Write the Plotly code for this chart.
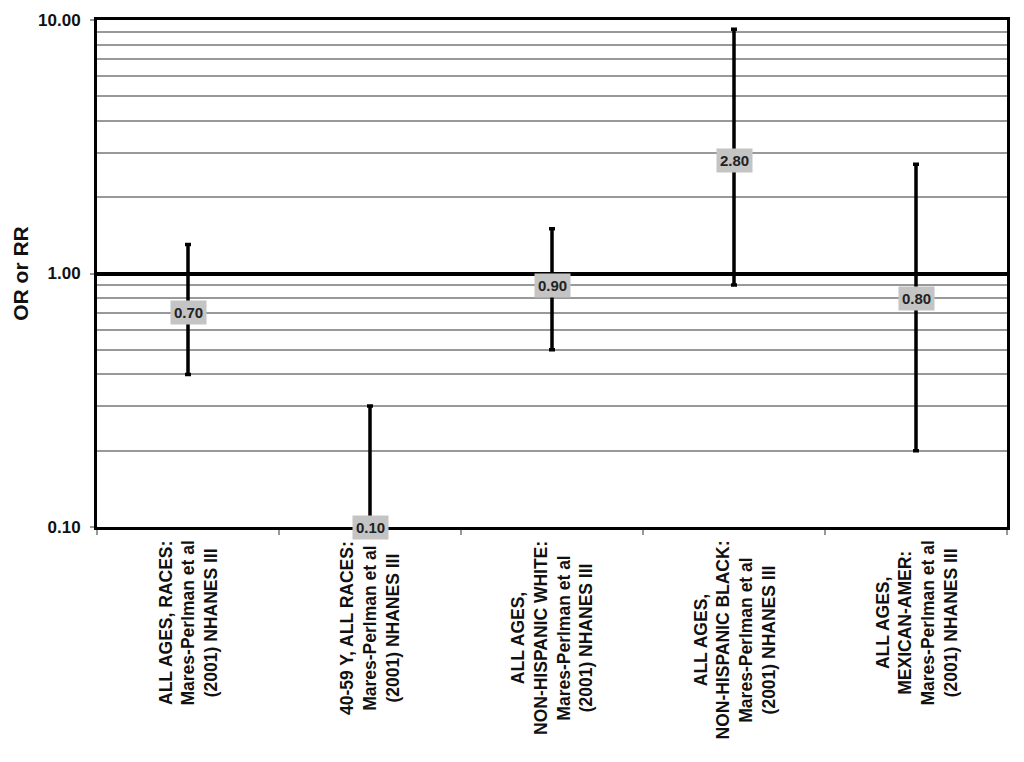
import math
import plotly.graph_objects as go

categories = [
    "ALL AGES, RACES:<br>Mares-Perlman et al<br>(2001) NHANES III",
    "40-59 Y, ALL RACES:<br>Mares-Perlman et al<br>(2001) NHANES III",
    "ALL AGES,<br>NON-HISPANIC WHITE:<br>Mares-Perlman et al<br>(2001) NHANES III",
    "ALL AGES,<br>NON-HISPANIC BLACK:<br>Mares-Perlman et al<br>(2001) NHANES III",
    "ALL AGES,<br>MEXICAN-AMER:<br>Mares-Perlman et al<br>(2001) NHANES III",
]
point = [0.70, 0.10, 0.90, 2.80, 0.80]
lower = [0.40, 0.10, 0.50, 0.90, 0.20]
upper = [1.30, 0.30, 1.50, 9.20, 2.70]

major_ticks = [0.1, 1, 10]
major_text = ["0.10", "1.00", "10.00"]
minor_ticks = [0.2, 0.3, 0.4, 0.5, 0.6, 0.7, 0.8, 0.9, 2, 3, 4, 5, 6, 7, 8, 9]

FONT = "Liberation Sans, Arial, sans-serif"
PLOT_H = 507

fig = go.Figure()
fig.add_trace(go.Scatter(
    x=categories, y=point, mode="markers",
    marker=dict(size=1, color="rgba(0,0,0,0)"),
    error_y=dict(type="data", symmetric=False,
                 array=[u - p for u, p in zip(upper, point)],
                 arrayminus=[p - l for p, l in zip(point, lower)],
                 color="black", thickness=3.5, width=3),
    showlegend=False, hoverinfo="skip", cliponaxis=False,
))

# value labels in grey boxes
for c, p in zip(categories, point):
    fig.add_annotation(x=c, y=math.log10(p), xref="x", yref="y",
                       text="%.2f" % p, showarrow=False,
                       font=dict(family=FONT, size=15, color="#222", weight="bold"),
                       bgcolor="#c4c4c4", borderpad=3)

# category labels (rotated, centered lines)
for c in categories:
    fig.add_annotation(x=c, y=-12 / PLOT_H, xref="x", yref="paper",
                       text=c, showarrow=False, textangle=-90,
                       xanchor="center", yanchor="top", align="center",
                       font=dict(family=FONT, size=17.5, color="#111", weight="bold"))

fig.update_layout(
    width=1016, height=754,
    margin=dict(l=89, r=17, t=12, b=235),
    paper_bgcolor="white", plot_bgcolor="white",
    font=dict(family=FONT, color="#111"),
    xaxis=dict(type="category", showticklabels=False, tickson="boundaries",
               ticks="outside", ticklen=5, tickcolor="#999", tickwidth=1.5,
               showline=True, linecolor="black", linewidth=3, mirror=True,
               showgrid=False, automargin=False, range=[-0.5, 4.5]),
    yaxis=dict(type="log", range=[-1, 1], tickvals=major_ticks, ticktext=major_text,
               tickfont=dict(family=FONT, size=17, color="#111", weight="bold"),
               ticks="outside", ticklen=4, tickcolor="#999", tickwidth=1.5,
               ticklabelstandoff=6,
               showgrid=True, gridcolor="black", gridwidth=4,
               minor=dict(tickvals=minor_ticks, showgrid=True, gridcolor="#999",
                          gridwidth=1.5, ticks=""),
               showline=True, linecolor="black", linewidth=3, mirror=True,
               title=dict(text="OR or RR",
                          font=dict(family=FONT, size=21, weight="bold"),
                          standoff=4),
               automargin=False),
)

fig.write_html("out.html")
